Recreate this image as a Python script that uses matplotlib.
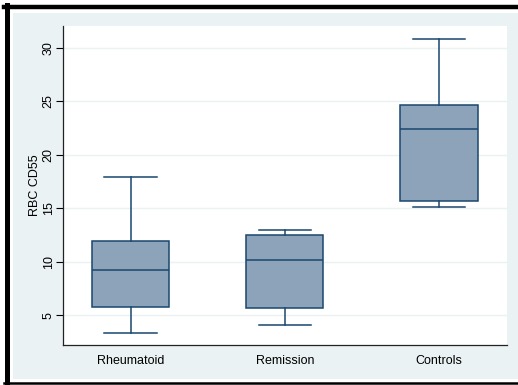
import matplotlib
matplotlib.use("Agg")
import matplotlib.pyplot as plt
from matplotlib.patches import Rectangle
from matplotlib.lines import Line2D

groups = ["Rheumatoid", "Remission", "Controls"]
whisker_low = [3.3, 4.1, 15.1]
q1 = [5.8, 5.7, 15.7]
median = [9.2, 10.2, 22.4]
q3 = [11.9, 12.5, 24.7]
whisker_high = [17.9, 13.0, 30.8]
yticks = [5, 10, 15, 20, 25, 30]

navy = "#1A476F"
fill = "#8DA3B9"
bg = "#EAF2F3"

plt.rcParams["font.family"] = ["Liberation Sans", "DejaVu Sans"]

W, H = 518, 385
fig = plt.figure(figsize=(W / 100, H / 100), dpi=100)
fig.patch.set_facecolor("white")

# outer light background and black frame
fig.add_artist(Rectangle((13 / W, (H - 379) / H), (W - 13) / W, 366 / H,
                         transform=fig.transFigure, facecolor=bg,
                         edgecolor="none", zorder=0))
fig.add_artist(Line2D([4 / W, 1], [1 - 7 / H, 1 - 7 / H], color="black",
                      lw=3.2, transform=fig.transFigure))
fig.add_artist(Line2D([6.5 / W, 6.5 / W], [1 - 5 / H, 1 - 384 / H],
                      color="black", lw=3.6, transform=fig.transFigure))
fig.add_artist(Line2D([4 / W, 1], [1 - 382.5 / H, 1 - 382.5 / H],
                      color="black", lw=1.8, transform=fig.transFigure))

ax = fig.add_axes([63 / W, 40 / H, 444 / W, 319 / H])
ax.set_facecolor("white")

stats = []
for i, g in enumerate(groups):
    stats.append({"label": g, "whislo": whisker_low[i], "q1": q1[i],
                  "med": median[i], "q3": q3[i], "whishi": whisker_high[i],
                  "fliers": []})

ax.bxp(stats, positions=[1, 2, 3], widths=0.5, capwidths=0.34,
       patch_artist=True, showfliers=False,
       boxprops=dict(facecolor=fill, edgecolor=navy, linewidth=1.1),
       medianprops=dict(color=navy, linewidth=1.1),
       whiskerprops=dict(color=navy, linewidth=1.1),
       capprops=dict(color=navy, linewidth=1.1))

ax.set_xlim(0.561, 3.441)
ax.set_ylim(2.2, 32.05)
ax.set_yticks(yticks)
ax.set_yticklabels([str(v) for v in yticks], rotation=90, va="center",
                   fontsize=9)
ax.yaxis.grid(True, color=bg, linewidth=1.0)
ax.set_axisbelow(True)
ax.tick_params(axis="y", length=5, width=0.8, pad=1, colors="black")
ax.tick_params(axis="x", length=0, pad=7, labelsize=9)
ax.set_ylabel("RBC CD55", fontsize=9, labelpad=1)

for s in ["top", "right"]:
    ax.spines[s].set_visible(False)
for s in ["left", "bottom"]:
    ax.spines[s].set_linewidth(0.9)
    ax.spines[s].set_color("#222222")

fig.savefig("out.png", dpi=100)
